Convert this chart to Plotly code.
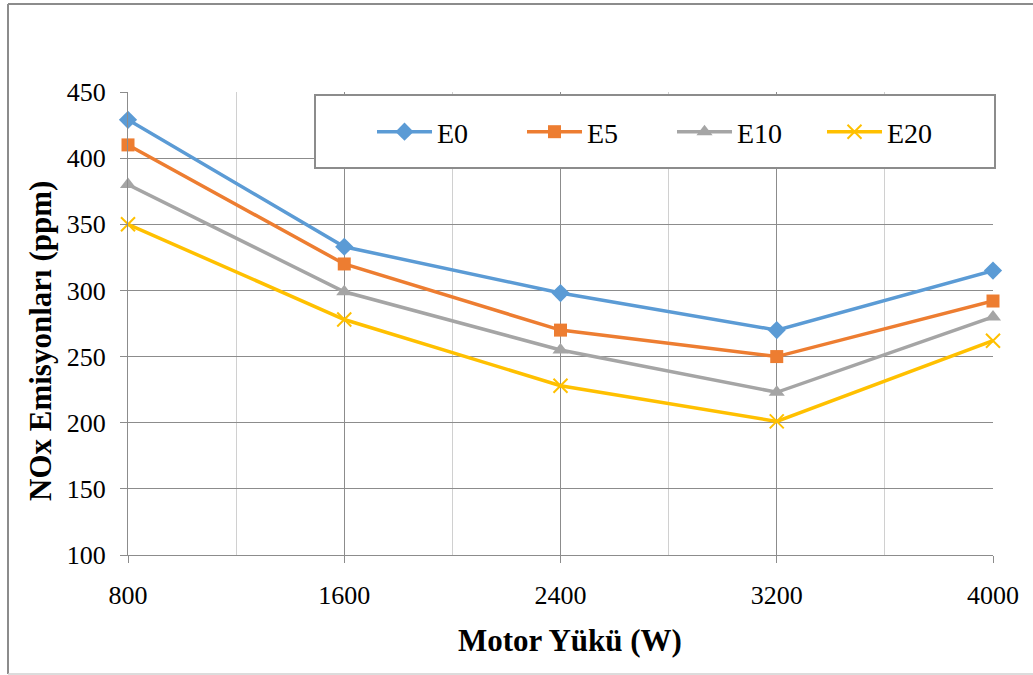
import plotly.graph_objects as go

loads = [800, 1600, 2400, 3200, 4000]
e0 = [429, 333, 298, 270, 315]
e5 = [410, 320, 270, 250, 292]
e10 = [380, 299, 255, 223, 280]
e20 = [350, 278, 228, 201, 262]

series = [
    ("E0", e0, "#5B9BD5", "diamond", 14),
    ("E5", e5, "#ED7D31", "square", 13),
    ("E10", e10, "#A5A5A5", "triangle-up", 14),
    ("E20", e20, "#FFC000", "x-thin", 14),
]

FONT = "Liberation Serif"
W, H = 1033, 675
L, R, T, B = 128, 40, 92, 120
PW, PH = W - L - R, H - T - B


def px(x):
    return (x - L) / PW


def py(y):
    return (H - B - y) / PH


fig = go.Figure()
for name, vals, color, sym, size in series:
    marker = dict(symbol=sym, size=size, color=color)
    if sym == "x-thin":
        marker["line"] = dict(color=color, width=2)
    fig.add_trace(go.Scatter(
        x=loads, y=vals, name=name, mode="lines+markers",
        line=dict(color=color, width=3.5), marker=marker, cliponaxis=False,
    ))

shapes = [
    # legend box
    dict(type="rect", xref="paper", yref="paper", x0=px(315), x1=px(995), y0=py(168), y1=py(95),
         line=dict(color="#8c8c8c", width=2), fillcolor="white", layer="above"),
    # outer chart border
    dict(type="line", xref="paper", yref="paper", x0=px(8), x1=px(8), y0=py(4), y1=py(674),
         line=dict(color="#8c8c8c", width=2)),
    dict(type="line", xref="paper", yref="paper", x0=px(8), x1=px(1040), y0=py(4), y1=py(4),
         line=dict(color="#8c8c8c", width=2)),
    dict(type="line", xref="paper", yref="paper", x0=px(8), x1=px(1040), y0=py(674), y1=py(674),
         line=dict(color="#d0d0d0", width=1.5)),
]

annotations = [
    dict(text="<b>Motor Yükü (W)</b>", xref="paper", yref="paper", x=px(570), y=py(640),
         showarrow=False, font=dict(family=FONT, size=31, color="black"), xanchor="center", yanchor="middle"),
    dict(text="<b>NOx Emisyonları (ppm)</b>", xref="paper", yref="paper", x=px(40), y=py(341),
         showarrow=False, textangle=-90, font=dict(family=FONT, size=31, color="black"),
         xanchor="center", yanchor="middle"),
]

fig.update_layout(
    width=W, height=H,
    margin=dict(l=L, r=R, t=T, b=B),
    paper_bgcolor="white", plot_bgcolor="white",
    font=dict(family=FONT, size=26, color="black"),
    showlegend=True,
    legend=dict(orientation="h", x=px(372), y=py(132), xanchor="left", yanchor="middle",
                bgcolor="rgba(0,0,0,0)", borderwidth=0, itemwidth=55, entrywidth=80,
                font=dict(family=FONT, size=28, color="black")),
    shapes=shapes, annotations=annotations,
    xaxis=dict(range=[800, 4000], tick0=800, dtick=800, showgrid=True, gridcolor="#8c8c8c", gridwidth=1,
               minor=dict(dtick=400, tick0=800, showgrid=True, gridcolor="#d0d0d0", gridwidth=1),
               showline=True, linecolor="#8c8c8c", linewidth=1, ticks="outside", ticklen=7,
               tickcolor="#8c8c8c", ticklabelstandoff=10, zeroline=False,
               tickfont=dict(family=FONT, size=26, color="black")),
    yaxis=dict(range=[100, 450], dtick=50, showgrid=True, gridcolor="#8c8c8c", gridwidth=1,
               showline=True, linecolor="#8c8c8c", linewidth=1, ticks="outside", ticklen=7,
               tickcolor="#8c8c8c", ticklabelstandoff=9, zeroline=False,
               tickfont=dict(family=FONT, size=26, color="black")),
)

fig.write_html("out.html")
